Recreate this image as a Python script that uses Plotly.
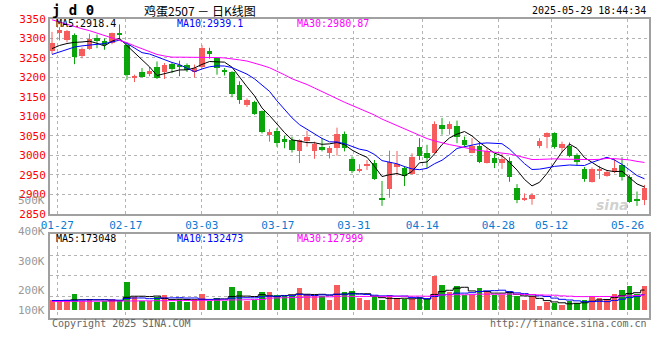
import plotly.graph_objects as go
import pandas as pd
import numpy as np

# ---------------- data ----------------
dates = ["01-24", "01-27", "02-05", "02-06", "02-07", "02-10", "02-11", "02-12", "02-13", "02-14",
         "02-17", "02-18", "02-19", "02-20", "02-21", "02-24", "02-25", "02-26", "02-27", "02-28",
         "03-03", "03-04", "03-05", "03-06", "03-07", "03-10", "03-11", "03-12", "03-13", "03-14",
         "03-17", "03-18", "03-19", "03-20", "03-21", "03-24", "03-25", "03-26", "03-27", "03-28",
         "03-31", "04-01", "04-02", "04-03", "04-07", "04-08", "04-09", "04-10", "04-11", "04-14",
         "04-15", "04-16", "04-17", "04-18", "04-21", "04-22", "04-23", "04-24", "04-25", "04-28",
         "04-29", "04-30", "05-06", "05-07", "05-08", "05-09", "05-12", "05-13", "05-14", "05-15",
         "05-16", "05-19", "05-20", "05-21", "05-22", "05-23", "05-26", "05-27", "05-28", "05-29"]

opens = [3267, 3313, 3295, 3310, 3254, 3274, 3300, 3294, 3289, 3313,
         3282, 3199, 3215, 3209, 3227, 3213, 3234, 3233, 3231, 3215,
         3228, 3267, 3250, 3220, 3214, 3181, 3128, 3136, 3113, 3053,
         3063, 3042, 3040, 3010, 3037, 3010, 3022, 3007, 3020, 3054,
         2991, 2961, 2973, 2981, 2889, 2914, 2971, 2968, 2951, 3022,
         3007, 3007, 3078, 3068, 3076, 3040, 3007, 3024, 2980, 2993,
         2981, 2986, 2917, 2887, 2888, 3024, 3047, 3058, 3020, 3024,
         3001, 2965, 2932, 2960, 2947, 2957, 2975, 2943, 2886, 2885]
highs = [3317, 3329, 3322, 3313, 3277, 3312, 3310, 3300, 3315, 3336,
         3290, 3207, 3224, 3227, 3241, 3237, 3238, 3243, 3236, 3233,
         3283, 3276, 3252, 3224, 3216, 3190, 3146, 3140, 3115, 3067,
         3070, 3050, 3048, 3041, 3063, 3035, 3044, 3024, 3071, 3061,
         2997, 2977, 2988, 2988, 2934, 3012, 3011, 2972, 3005, 3044,
         3027, 3087, 3096, 3087, 3089, 3048, 3044, 3035, 3018, 3004,
         3004, 2995, 2926, 2902, 2903, 3044, 3059, 3059, 3035, 3033,
         3005, 2970, 2969, 2973, 2962, 2991, 2995, 2950, 2907, 2924]
lows = [3260, 3295, 3290, 3234, 3249, 3271, 3275, 3271, 3285, 3297,
        3194, 3188, 3200, 3203, 3196, 3196, 3211, 3203, 3214, 3200,
        3225, 3248, 3207, 3205, 3149, 3132, 3124, 3104, 3056, 3035,
        3022, 3018, 3007, 2980, 3022, 2991, 3010, 2992, 2999, 3010,
        2954, 2956, 2962, 2937, 2870, 2891, 2948, 2921, 2950, 2988,
        2967, 3005, 3053, 3053, 3031, 3022, 3005, 2980, 2979, 2967,
        2965, 2932, 2877, 2883, 2873, 3018, 3018, 3017, 3007, 2995,
        2974, 2932, 2930, 2939, 2945, 2954, 2935, 2878, 2870, 2872]
closes = [3289, 3323, 3318, 3252, 3273, 3299, 3296, 3284, 3313, 3310,
          3205, 3203, 3201, 3217, 3198, 3231, 3222, 3228, 3218, 3223,
          3276, 3259, 3224, 3214, 3158, 3143, 3141, 3107, 3059, 3061,
          3031, 3034, 3014, 3038, 3046, 3029, 3014, 3020, 3055, 3018,
          2960, 2963, 2978, 2939, 2887, 2984, 2978, 2948, 2995, 2999,
          2994, 3081, 3068, 3081, 3048, 3027, 3025, 2984, 3011, 2981,
          2991, 2943, 2884, 2891, 2898, 3037, 3057, 3022, 3029, 2999,
          2982, 2939, 2965, 2962, 2957, 2967, 2944, 2881, 2883, 2917]
volumes = [88000, 74000, 74000, 138000, 80000, 94000, 66000, 77000, 94000, 88000,
           232000, 110000, 77000, 80000, 108000, 130000, 66000, 94000, 66000, 94000,
           138000, 77000, 105000, 74000, 196000, 157000, 74000, 88000, 149000, 149000,
           130000, 116000, 116000, 182000, 138000, 122000, 122000, 83000, 212000, 149000,
           157000, 102000, 83000, 116000, 83000, 130000, 94000, 94000, 94000, 110000,
           94000, 282000, 212000, 149000, 199000, 130000, 130000, 190000, 149000, 130000,
           130000, 157000, 116000, 83000, 116000, 39000, 66000, 60000, 47000, 74000,
           60000, 88000, 122000, 102000, 94000, 138000, 171000, 205000, 138000, 205000]

ma5_head = [3274, 3282, 3287, 3290]
ma10_head = [3259, 3266, 3273, 3278, 3281, 3283, 3284, 3287, 3291]
ma30_head = [3348, 3342, 3336, 3330, 3325, 3320, 3314, 3308, 3302, 3295,
             3289, 3281, 3273, 3265, 3259, 3255, 3252, 3252, 3252, 3252,
             3252, 3252, 3251, 3250, 3248, 3245, 3242, 3237, 3231]
vma5_head = [84000, 84000, 86000, 90000]
vma10_head = [84000, 84000, 85000, 86000, 88000, 90000, 90000, 90000, 90000]
vma30_head = [76000, 76000, 77000, 77000, 78000, 78000, 79000, 79000, 80000, 80000,
              81000, 81000, 82000, 82000, 83000, 83000, 84000, 84000, 85000, 85000,
              86000, 86000, 87000, 88000, 89000, 90000, 91000, 92000, 93000]

# legend readouts as printed on the chart
price_ma_text = ["MA5:2918.4", "MA10:2939.1", "MA30:2980.87"]
vol_ma_text = ["MA5:173048", "MA10:132473", "MA30:127999"]

price_ticks = [2850, 2900, 2950, 3000, 3050, 3100, 3150, 3200, 3250, 3300, 3350]
date_ticks = ["01-27", "02-17", "03-03", "03-17", "03-31", "04-14", "04-28", "05-12", "05-26"]
vol_tick_labels = ["500K", "400K", "300K", "200K", "100K"]

title_text = "鸡蛋2507 － 日K线图"
symbol_text = "j d 0"
time_text = "2025-05-29 18:44:34"

# ---------------- derived ----------------
n = len(dates)
xs = np.arange(n)
cl = pd.Series(closes, dtype=float)
vo = pd.Series(volumes, dtype=float)


def ma(series, w, head):
    m = series.rolling(w).mean().to_numpy()
    m[:len(head)] = head
    return m


ma5, ma10, ma30 = ma(cl, 5, ma5_head), ma(cl, 10, ma10_head), ma(cl, 30, ma30_head)
vma5, vma10, vma30 = ma(vo, 5, vma5_head), ma(vo, 10, vma10_head), ma(vo, 30, vma30_head)

RED = "#f65c5c"
GREEN = "#0aa50a"
up = [c >= o for o, c in zip(opens, closes)]

W, H = 660, 360
ML, MR, MT, MB = 50, 11, 19, 42
plot_h = H - MT - MB          # 299
px_per_day = 7.5
vol_per_px = 8300


def paper_y(py):
    return (H - MB - py) / plot_h


def paper_x(px):
    return (px - ML) / (W - ML - MR)


main_dom = [paper_y(213.7), 1]
vol_dom = [0, paper_y(234.3)]
vol_lo = -(H - MB - 310.7) * vol_per_px
vol_hi = vol_lo + (vol_dom[1] * plot_h) * vol_per_px

fig = go.Figure()

# wicks
for flag, col in ((True, RED), (False, GREEN)):
    wx, wy = [], []
    for i in range(n):
        if up[i] == flag:
            wx += [xs[i], xs[i], None]
            wy += [lows[i], highs[i], None]
    fig.add_trace(go.Scatter(x=wx, y=wy, mode="lines", line=dict(color=col, width=1),
                             hoverinfo="skip", showlegend=False, xaxis="x", yaxis="y"))

# bodies
MINB = 2.6
body_h = [max(abs(c - o), MINB) for o, c in zip(opens, closes)]
body_base = [min(o, c) - max(0, MINB - abs(c - o)) / 2 for o, c in zip(opens, closes)]
colors = [RED if u else GREEN for u in up]
fig.add_trace(go.Bar(x=xs, y=body_h, base=body_base, width=0.74, marker=dict(color=colors, line=dict(width=0)),
                     showlegend=False, xaxis="x", yaxis="y"))

# price MAs
for m, col in ((ma5, "#000000"), (ma10, "#0000ff"), (ma30, "#ff00ff")):
    fig.add_trace(go.Scatter(x=xs, y=m, mode="lines", line=dict(color=col, width=1),
                             showlegend=False, xaxis="x", yaxis="y"))

# volume bars
fig.add_trace(go.Bar(x=xs, y=volumes, width=0.74, marker=dict(color=colors, line=dict(width=0)),
                     showlegend=False, xaxis="x2", yaxis="y2"))
for m, col in ((vma5, "#000000"), (vma10, "#0000ff"), (vma30, "#ff00ff")):
    fig.add_trace(go.Scatter(x=xs, y=m, mode="lines", line=dict(color=col, width=1, shape="hvh"),
                             showlegend=False, xaxis="x2", yaxis="y2"))

tick_pos = [dates.index(d) * 1.014 - 0.307 for d in date_ticks]
xr = [-(52 - ML) / px_per_day, -(52 - ML) / px_per_day + (W - ML - MR) / px_per_day]

GRID = "#b4b4b4"
BORDER = "#a0a0a0"
MONO = "DejaVu Sans Mono"

common_x = dict(range=xr, tickvals=tick_pos, showgrid=True, gridcolor=GRID, griddash="dot", gridwidth=1,
                zeroline=False, showline=True, linecolor=BORDER, linewidth=2, mirror=True, ticks="",
                automargin=False)

vol_grid_vals = [(310.7 - py) * vol_per_px for py in (296.0, 275.3, 255.0)]

fig.update_layout(
    width=W, height=H, margin=dict(l=ML, r=MR, t=MT, b=MB, autoexpand=False),
    paper_bgcolor="white", plot_bgcolor="white", bargap=0, barmode="overlay",
    font=dict(family=MONO, size=10, color="#000"),
    xaxis=dict(domain=[0, 1], anchor="y", ticktext=date_ticks, showticklabels=True,
               tickfont=dict(family=MONO, size=11, color="#0a7ad2"), **common_x),
    yaxis=dict(domain=main_dom, range=[2850, 3350], tickvals=price_ticks, ticks="",
               tickfont=dict(family=MONO, size=11, color="#ff0000"), automargin=False,
               showgrid=True, gridcolor=GRID, griddash="dot", zeroline=False,
               showline=True, linecolor=BORDER, linewidth=2, mirror=True),
    xaxis2=dict(domain=[0, 1], anchor="y2", matches="x", showticklabels=False, **common_x),
    yaxis2=dict(domain=vol_dom, range=[vol_lo, vol_hi], tickvals=vol_grid_vals, showticklabels=False,
                showgrid=True, gridcolor=GRID, griddash="dot", zeroline=False, automargin=False,
                showline=True, linecolor=BORDER, linewidth=2, mirror=True),
    showlegend=False,
)

ann = []
# header
ann.append(dict(text="<b>" + symbol_text + "</b>", x=paper_x(50), y=paper_y(10), xanchor="left", yanchor="middle",
                font=dict(family=MONO, size=14, color="#000")))
ann.append(dict(text=title_text, x=paper_x(200), y=paper_y(10), xanchor="center", yanchor="middle",
                font=dict(family="Noto Sans CJK SC", size=12, color="#000")))
ann.append(dict(text=time_text, x=paper_x(648), y=paper_y(10), xanchor="right", yanchor="middle",
                font=dict(family=MONO, size=10, color="#000")))
# legends
for txt, col, px in zip(price_ma_text, ("#000000", "#0000ff", "#ff00ff"), (54, 175, 295)):
    ann.append(dict(text=txt, x=paper_x(px), y=paper_y(24), xanchor="left",
                    yanchor="middle", font=dict(family=MONO, size=10, color=col)))
for txt, col, px in zip(vol_ma_text, ("#000000", "#0000ff", "#ff00ff"), (54, 175, 295)):
    ann.append(dict(text=txt, x=paper_x(px), y=paper_y(238.5), xanchor="left",
                    yanchor="middle", font=dict(family=MONO, size=10, color=col)))
# volume axis labels
for lab, py in zip(vol_tick_labels, (200, 231, 261.7, 290.7, 310)):
    ann.append(dict(text=lab, x=paper_x(47), y=paper_y(py), xanchor="right", yanchor="middle",
                    font=dict(family=MONO, size=11, color="#999999")))
# footer
ann.append(dict(text="Copyright 2025 SINA.COM", x=paper_x(50), y=paper_y(323), xanchor="left", yanchor="middle",
                font=dict(family=MONO, size=10, color="#666666")))
ann.append(dict(text="http://finance.sina.com.cn", x=paper_x(649), y=paper_y(323), xanchor="right",
                yanchor="middle", font=dict(family=MONO, size=10, color="#666666")))
# watermark
ann.append(dict(text="<b><i>sina</i></b>", x=paper_x(612), y=paper_y(205), xanchor="center", yanchor="middle",
                font=dict(family="DejaVu Sans", size=14, color="rgba(150,150,150,0.45)")))

for a in ann:
    a.update(xref="paper", yref="paper", showarrow=False)
fig.update_layout(annotations=ann)

fig.write_html("out.html", config={"displayModeBar": False},
               post_script="document.body.style.margin='0px';document.body.style.padding='0px';"
                           "document.documentElement.style.overflow='hidden';")
